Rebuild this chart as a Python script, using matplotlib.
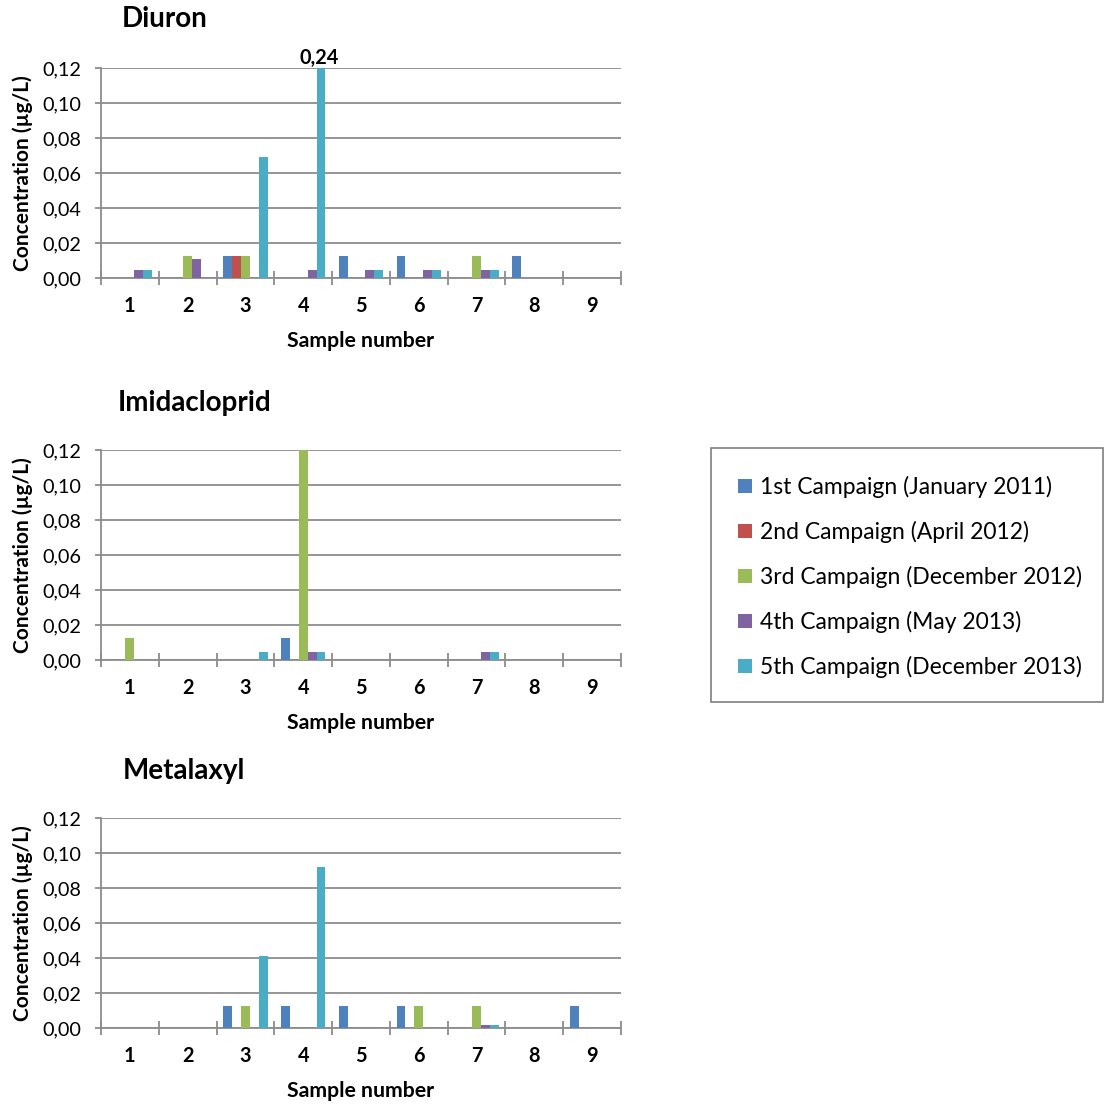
import matplotlib
matplotlib.use("Agg")
import matplotlib.pyplot as plt
import numpy as np
from matplotlib.patches import Patch, Rectangle

plt.rcParams['font.family'] = ['Lato', 'DejaVu Sans']

samples = ["1", "2", "3", "4", "5", "6", "7", "8", "9"]
campaigns = ["1st Campaign (January 2011)", "2nd Campaign (April 2012)",
             "3rd Campaign (December 2012)", "4th Campaign (May 2013)",
             "5th Campaign (December 2013)"]
colors = ["#4F81BD", "#C0504D", "#9BBB59", "#8064A2", "#4BACC6"]

# Diuron values (µg/L), per campaign, samples 1..9
diuron_c1 = [0, 0, 0.0125, 0, 0.0125, 0.0125, 0, 0.0125, 0]
diuron_c2 = [0, 0, 0.0125, 0, 0, 0, 0, 0, 0]
diuron_c3 = [0, 0.0125, 0.0125, 0, 0, 0, 0.0125, 0, 0]
diuron_c4 = [0.0046, 0.011, 0, 0.0046, 0.0046, 0.0046, 0.0046, 0, 0]
diuron_c5 = [0.0046, 0, 0.069, 0.24, 0.0046, 0.0046, 0.0046, 0, 0]

# Imidacloprid
imid_c1 = [0, 0, 0, 0.0125, 0, 0, 0, 0, 0]
imid_c2 = [0, 0, 0, 0, 0, 0, 0, 0, 0]
imid_c3 = [0.0125, 0, 0, 0.12, 0, 0, 0, 0, 0]
imid_c4 = [0, 0, 0, 0.0046, 0, 0, 0.0046, 0, 0]
imid_c5 = [0, 0, 0.0046, 0.0046, 0, 0, 0.0046, 0, 0]

# Metalaxyl
meta_c1 = [0, 0, 0.0125, 0.0125, 0.0125, 0.0125, 0, 0, 0.0125]
meta_c2 = [0, 0, 0, 0, 0, 0, 0, 0, 0]
meta_c3 = [0, 0, 0.0125, 0, 0, 0.0125, 0.0125, 0, 0]
meta_c4 = [0, 0, 0, 0, 0, 0, 0.002, 0, 0]
meta_c5 = [0, 0, 0.041, 0.092, 0, 0, 0.002, 0, 0]

panels = [
    ("Diuron", [diuron_c1, diuron_c2, diuron_c3, diuron_c4, diuron_c5]),
    ("Imidacloprid", [imid_c1, imid_c2, imid_c3, imid_c4, imid_c5]),
    ("Metalaxyl", [meta_c1, meta_c2, meta_c3, meta_c4, meta_c5]),
]
yticks = [0.0, 0.02, 0.04, 0.06, 0.08, 0.10, 0.12]
ytick_labels = ["0,00", "0,02", "0,04", "0,06", "0,08", "0,10", "0,12"]

W, H = 1104, 1106
fig = plt.figure(figsize=(W / 100, H / 100), dpi=100)

axes_px = [(68, 278), (450, 660), (818, 1028)]
title_px = [(122, 19), (118, 403), (123, 771)]
left_px, right_px = 101, 621
grid_col = "#8C8C8C"

n = len(samples)
nb = len(campaigns)
gap = 1.5
bw = 1.0 / (nb + gap)
x = np.arange(n)

for (name, series), (top, bot), (tx, ty) in zip(panels, axes_px, title_px):
    ax = fig.add_axes([left_px / W, 1 - bot / H, (right_px - left_px) / W, (bot - top) / H])
    for i, vals in enumerate(series):
        pos = x - 0.5 + bw * gap / 2 + bw * (i + 0.5)
        ax.bar(pos, vals, width=bw, color=colors[i], edgecolor="none", zorder=3)
    ax.set_xlim(-0.5, n - 0.5)
    ax.set_ylim(0, 0.12)
    ax.set_yticks(yticks)
    ax.set_yticklabels(ytick_labels, fontsize=14.3)
    ax.set_xticks(x)
    ax.set_xticklabels(samples, fontsize=14.3, fontweight="bold")
    ax.set_xticks(np.arange(n + 1) - 0.5, minor=True)
    ax.tick_params(axis="x", which="major", length=0, pad=13)
    ax.tick_params(axis="x", which="minor", direction="inout", length=10, width=1.3, color=grid_col)
    ax.tick_params(axis="y", direction="out", length=4, width=1.3, color=grid_col, pad=10)
    ax.yaxis.grid(True, color=grid_col, linewidth=1.3, zorder=0)
    for s in ["top", "right"]:
        ax.spines[s].set_visible(False)
    for s in ["left", "bottom"]:
        ax.spines[s].set_color(grid_col)
        ax.spines[s].set_linewidth(1.3)
    ax.set_xlabel("Sample number", fontsize=15.3, fontweight="bold", labelpad=11)
    ax.set_ylabel("Concentration (µg/L)", fontsize=15, fontweight="bold", labelpad=7)
    fig.text(tx / W, 1 - ty / H, name, fontsize=20, fontweight="bold", ha="left", va="center")
    # data label for clipped bar
    for i, vals in enumerate(series):
        for j, v in enumerate(vals):
            if v > 0.12:
                pos = j - 0.5 + bw * gap / 2 + bw * (i + 0.5)
                ax.text(pos - 0.03, 0.12, ("%.2f" % v).replace(".", ","), ha="center",
                        va="bottom", fontsize=14.3, fontweight="bold")

# legend box
fig.patches.append(Rectangle((711 / W, 1 - 702 / H), (1103 - 711) / W, (702 - 448) / H,
                             transform=fig.transFigure, facecolor="white",
                             edgecolor="#7F7F7F", linewidth=1.2, zorder=1))
handles = [Patch(facecolor=c, edgecolor="none") for c in colors]
leg = fig.legend(handles, campaigns, loc="upper left",
                 bbox_to_anchor=(738 / W, 1 - 476 / H), fontsize=16.5,
                 frameon=False, handlelength=0.6, handleheight=0.6, handletextpad=0.35,
                 labelspacing=1.0, borderpad=0, borderaxespad=0)

fig.savefig("out.png", dpi=100)
